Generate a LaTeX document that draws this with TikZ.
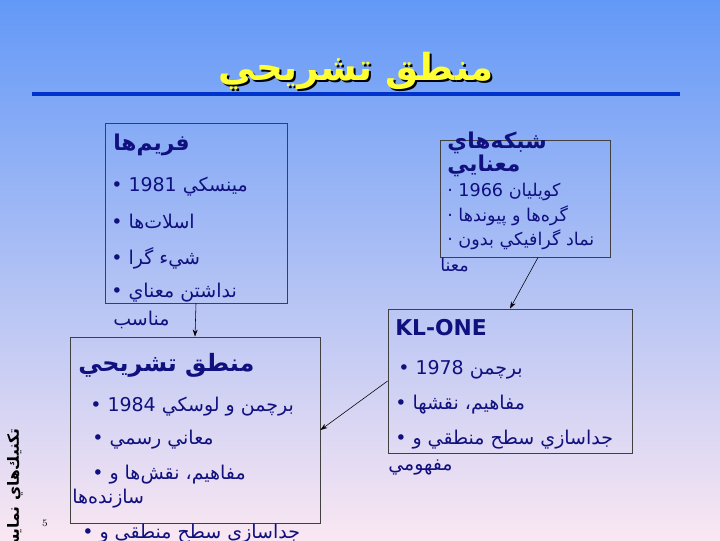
\documentclass[tikz,border=0pt]{standalone}
\usepackage{fontspec}
\newfontfamily\arabicfont[Script=Arabic]{DejaVu Sans}
\TeXXeTstate=1
\usetikzlibrary{fit,arrows.meta}
\definecolor{navy}{HTML}{10107F}
\definecolor{bgtop}{HTML}{6399F7}
\definecolor{bgmid}{HTML}{B4C4F4}
\definecolor{bgbot}{HTML}{FAE7F2}
\definecolor{rule}{HTML}{0033CC}
\definecolor{ttlyellow}{HTML}{FFFF33}
\newcommand\pers[1]{\beginR #1\endR}
\tikzset{
  box/.style={draw=black!75, line width=0.6pt, inner sep=0pt},
  txtline/.style={anchor=west, inner sep=0pt, text=navy, font=\arabicfont\fontsize{13.5}{15}\selectfont},
  txtsmall/.style={txtline, font=\arabicfont\fontsize{12.5}{14}\selectfont},
  txthead/.style={txtline, font=\arabicfont\bfseries\fontsize{15.5}{18}\selectfont},
  ttl/.style={inner sep=0pt, font=\arabicfont\bfseries\fontsize{26.5}{30}\selectfont}
}
\begin{document}
\begin{tikzpicture}[x=0.025cm,y=-0.025cm,>={Stealth[length=5pt,width=3.5pt]}]
\useasboundingbox (0,0) rectangle (720,540);
\shade[top color=bgtop, middle color=bgmid, bottom color=bgbot] (0,0) rectangle (720,540);
% title
\node[ttl, text=black] (Ts) at (358,73) {\pers{منطق تشريحي}};
\node[ttl, text=ttlyellow] (T) at (356,71) {\pers{منطق تشريحي}};
\draw[rule, line width=2.8pt] (32,94) -- (680,94);
% boxes
\node[box, fit={(105,123) (287,303)}] (F) {};
\node[box, fit={(440,140) (610,257)}] (S) {};
\node[box, fit={(388,309) (632,453)}] (K) {};
\node[box, fit={(70,337) (320,523)}] (L) {};
% frames
\node[txthead] (F0) at (113,145) {\pers{فريم‌ها}};
\node[txtline] (F1) at (111,187) {• \pers{مينسكي \beginL1981\endL}};
\node[txtline] (F2) at (111,222) {• \pers{اسلات‌ها}};
\node[txtline] (F3) at (111,258) {• \pers{شيء گرا}};
\node[txtline] (F4) at (111,293) {• \pers{نداشتن معناي}};
\node[txtline] (F5) at (113,320) {\pers{مناسب}};
% semantic networks
\node[txthead] (S0) at (447,143) {\pers{شبكه‌هاي}};
\node[txthead] (S00) at (447,166) {\pers{معنايي}};
\node[txtsmall] (S1) at (447,192) {· \pers{كويليان \beginL1966\endL}};
\node[txtsmall] (S2) at (447,216) {· \pers{گره‌ها و پيوندها}};
\node[txtsmall] (S3) at (447,240) {· \pers{نماد گرافيكي بدون}};
\node[txtsmall] (S4) at (440,265) {\pers{معنا}};
% KL-ONE
\node[txthead] (K0) at (395,328) {KL-ONE};
\node[txtline] (K1) at (398,370) {• \pers{برچمن \beginL1978\endL}};
\node[txtline] (K2) at (395,405) {• \pers{مفاهيم، نقشها}};
\node[txtline] (K3) at (395,440) {• \pers{جداسازي سطح منطقي و}};
\node[txtline] (K4) at (388,467) {\pers{مفهومي}};
% description logic
\node[txthead, font=\arabicfont\bfseries\fontsize{17}{20}\selectfont] (L0) at (78,365) {\pers{منطق تشريحي}};
\node[txtline] (L1) at (90,407) {• \pers{برچمن و لوسكي \beginL1984\endL}};
\node[txtline] (L2) at (92,440) {• \pers{معاني رسمي}};
\node[txtline] (L3) at (92,475) {• \pers{مفاهيم، نقش‌ها و}};
\node[txtline] (L4) at (72,499) {\pers{سازنده‌ها}};
\node[txtline] (L5) at (82,534) {• \pers{جداسازي سطح منطقي و}};
% footer
\node[rotate=90, anchor=east, inner sep=0pt, font=\arabicfont\bfseries\fontsize{11}{13}\selectfont] (N) at (15,428) {\pers{تكنيك‌هاي نمايش دانش}};
\node[inner sep=0pt, font=\fontsize{7}{8}\selectfont] (P) at (45,523) {5};
\path
  (F.south) edge [->] (L.north)
  ([xshift=0.325cm]S.south) edge [->] (K.north)
  (K.west) edge [->] (L.east)
;
\end{tikzpicture}
\end{document}
